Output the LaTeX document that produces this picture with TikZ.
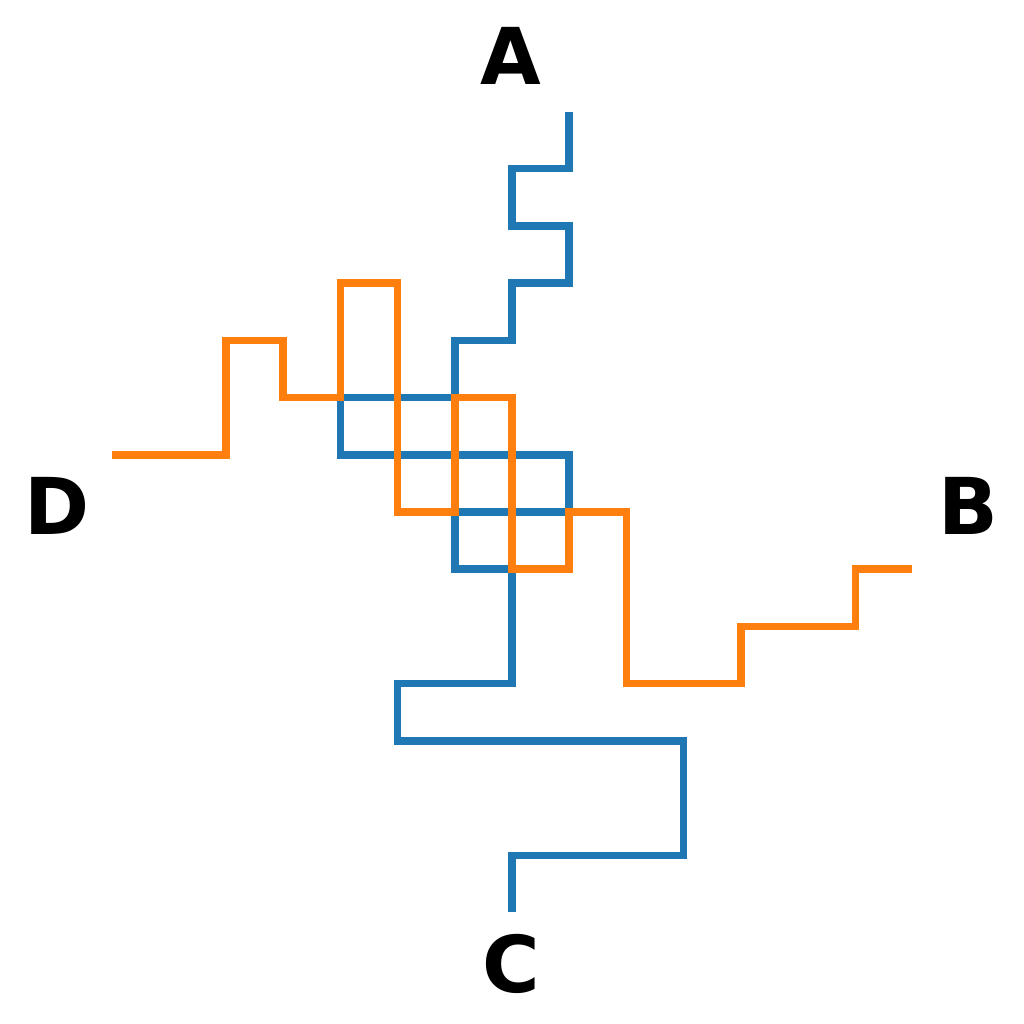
\documentclass[tikz,border=0pt]{standalone}
\usepackage{fontspec}
\setmainfont{DejaVu Sans}
\definecolor{tabblue}{HTML}{1F77B4}
\definecolor{taborange}{HTML}{FF7F0E}
\tikzset{
    walk/.style={line width=3.7pt, line cap=butt, line join=miter},
    endlabel/.style={inner sep=0pt, font=\fontsize{39}{47}\selectfont\bfseries}
}
\begin{document}
\begin{tikzpicture}
        \useasboundingbox (-8.95,-8.95) rectangle (8.95,8.95);
        \draw [walk, tabblue] (1,7) -- (1,6) -- (0,6) -- (0,5) -- (1,5) -- (1,4) -- (0,4) -- (0,3) -- (-1,3) -- (-1,2) -- (-3,2) -- (-3,1) -- (1,1) -- (1,0) -- (-1,0) -- (-1,-1) -- (0,-1) -- (0,-3) -- (-2,-3) -- (-2,-4) -- (3,-4) -- (3,-6) -- (0,-6) -- (0,-7);
        \draw [walk, taborange] (-7,1) -- (-5,1) -- (-5,3) -- (-4,3) -- (-4,2) -- (-3,2) -- (-3,4) -- (-2,4) -- (-2,0) -- (-1,0) -- (-1,2) -- (0,2) -- (0,-1) -- (1,-1) -- (1,0) -- (2,0) -- (2,-3) -- (4,-3) -- (4,-2) -- (6,-2) -- (6,-1) -- (7,-1);
        \node [endlabel] (labA) at (-0.02,7.97) {A};
        \node [endlabel] (labB) at (7.98,0.1) {B};
        \node [endlabel] (labC) at (-0.02,-7.9) {C};
        \node [endlabel] (labD) at (-7.95,0.11) {D};
    \end{tikzpicture}
\end{document}
